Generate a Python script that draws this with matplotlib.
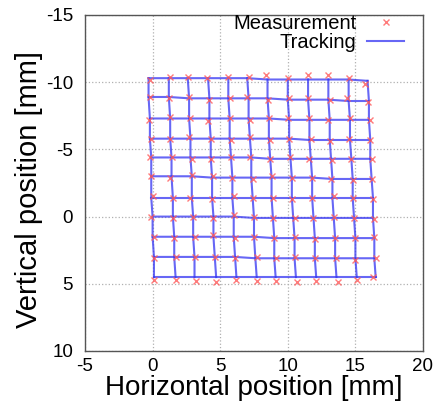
import numpy as np
import matplotlib
matplotlib.use('Agg')
import matplotlib.pyplot as plt

plt.rcParams['font.family'] = ['Liberation Sans', 'DejaVu Sans']
plt.rcParams['axes.unicode_minus'] = False

# tracked grid nodes [mm], 11 rows x 12 columns
track_x = [
    [-0.3, 1.2, 2.6, 4.1, 5.6, 7.0, 8.5, 10.0, 11.5, 13.0, 14.5, 15.9],
    [-0.3, 1.2, 2.7, 4.2, 5.6, 7.1, 8.5, 10.0, 11.5, 13.0, 14.5, 16.0],
    [-0.2, 1.3, 2.7, 4.2, 5.7, 7.1, 8.6, 10.1, 11.6, 13.1, 14.6, 16.0],
    [-0.2, 1.3, 2.8, 4.3, 5.7, 7.2, 8.6, 10.1, 11.6, 13.1, 14.6, 16.1],
    [-0.1, 1.4, 2.8, 4.3, 5.8, 7.3, 8.7, 10.2, 11.7, 13.2, 14.7, 16.1],
    [-0.1, 1.4, 2.9, 4.4, 5.9, 7.3, 8.8, 10.3, 11.8, 13.3, 14.8, 16.2],
    [-0.1, 1.5, 2.9, 4.4, 5.9, 7.4, 8.8, 10.3, 11.8, 13.3, 14.8, 16.3],
    [0.0, 1.5, 3.0, 4.5, 6.0, 7.5, 8.9, 10.4, 11.9, 13.4, 14.9, 16.3],
    [0.0, 1.6, 3.0, 4.5, 6.0, 7.5, 9.0, 10.5, 12.0, 13.5, 15.0, 16.4],
    [0.1, 1.6, 3.1, 4.6, 6.1, 7.6, 9.0, 10.5, 12.0, 13.5, 15.0, 16.4],
    [0.1, 1.7, 3.1, 4.7, 6.2, 7.7, 9.1, 10.6, 12.1, 13.6, 15.1, 16.5],
]
track_y = [
    [-10.3, -10.3, -10.3, -10.3, -10.3, -10.3, -10.2, -10.2, -10.2, -10.2, -10.2, -10.1],
    [-8.9, -8.9, -8.8, -8.8, -8.8, -8.8, -8.8, -8.7, -8.7, -8.7, -8.6, -8.6],
    [-7.3, -7.3, -7.3, -7.3, -7.3, -7.3, -7.3, -7.2, -7.2, -7.2, -7.2, -7.2],
    [-5.8, -5.8, -5.8, -5.8, -5.8, -5.8, -5.8, -5.8, -5.7, -5.7, -5.7, -5.7],
    [-4.4, -4.4, -4.4, -4.4, -4.4, -4.4, -4.3, -4.3, -4.3, -4.3, -4.3, -4.3],
    [-3.0, -3.0, -3.0, -2.9, -2.9, -2.9, -2.9, -2.9, -2.9, -2.8, -2.8, -2.8],
    [-1.4, -1.4, -1.4, -1.4, -1.4, -1.4, -1.4, -1.4, -1.4, -1.4, -1.4, -1.4],
    [0.0, 0.0, 0.0, 0.0, 0.0, 0.1, 0.1, 0.1, 0.1, 0.1, 0.1, 0.1],
    [1.5, 1.5, 1.5, 1.5, 1.5, 1.5, 1.6, 1.6, 1.6, 1.6, 1.6, 1.6],
    [3.0, 3.0, 3.0, 3.0, 3.0, 3.1, 3.1, 3.1, 3.1, 3.1, 3.1, 3.1],
    [4.5, 4.5, 4.5, 4.5, 4.5, 4.5, 4.5, 4.5, 4.5, 4.5, 4.5, 4.5],
]

# measured marker positions [mm]
meas_x = [
    [-0.2, 1.3, 2.6, 4.0, 5.6, 7.1, 8.4, 10.0, 11.5, 13.0, 14.5, 15.7],
    [-0.2, 1.2, 2.7, 4.2, 5.7, 7.0, 8.5, 10.1, 11.5, 13.1, 14.4, 15.9],
    [-0.3, 1.3, 2.8, 4.1, 5.7, 7.2, 8.6, 10.0, 11.6, 13.0, 14.6, 16.1],
    [-0.1, 1.3, 2.7, 4.3, 5.8, 7.2, 8.7, 10.1, 11.7, 13.1, 14.5, 16.1],
    [-0.2, 1.4, 2.9, 4.3, 5.8, 7.2, 8.7, 10.2, 11.6, 13.3, 14.7, 16.2],
    [-0.1, 1.3, 2.9, 4.5, 5.9, 7.4, 8.8, 10.3, 11.8, 13.2, 14.8, 16.2],
    [0.0, 1.5, 2.8, 4.4, 6.0, 7.4, 8.9, 10.3, 11.8, 13.4, 14.8, 16.3],
    [-0.1, 1.5, 3.0, 4.5, 6.0, 7.5, 8.9, 10.5, 11.9, 13.4, 14.9, 16.4],
    [0.1, 1.6, 3.1, 4.5, 6.1, 7.5, 9.0, 10.5, 12.0, 13.5, 15.0, 16.4],
    [0.1, 1.7, 3.1, 4.6, 6.1, 7.7, 9.1, 10.5, 12.0, 13.6, 15.0, 16.5],
    [0.1, 1.7, 3.2, 4.7, 6.2, 7.7, 9.1, 10.7, 12.1, 13.7, 15.1, 16.3],
]
meas_y = [
    [-10.2, -10.4, -10.4, -10.3, -10.4, -10.4, -10.5, -10.3, -10.5, -10.5, -10.3, -9.9],
    [-8.9, -8.8, -8.9, -8.7, -8.8, -8.9, -8.7, -8.8, -8.8, -8.7, -8.8, -8.5],
    [-7.2, -7.4, -7.3, -7.1, -7.3, -7.2, -7.3, -7.3, -7.3, -7.2, -7.3, -7.2],
    [-5.8, -5.8, -5.9, -5.8, -5.7, -5.9, -5.7, -5.8, -5.8, -5.6, -5.8, -5.7],
    [-4.4, -4.4, -4.3, -4.3, -4.4, -4.4, -4.3, -4.4, -4.3, -4.2, -4.3, -4.3],
    [-3.0, -2.9, -3.1, -3.0, -2.9, -2.8, -3.0, -2.9, -2.9, -2.8, -2.7, -2.8],
    [-1.5, -1.4, -1.4, -1.3, -1.5, -1.4, -1.4, -1.3, -1.4, -1.5, -1.4, -1.3],
    [0.0, 0.1, 0.0, 0.1, -0.1, 0.0, 0.1, 0.1, 0.1, 0.0, 0.1, 0.2],
    [1.5, 1.6, 1.5, 1.4, 1.6, 1.5, 1.6, 1.5, 1.7, 1.6, 1.6, 1.5],
    [3.1, 3.0, 3.0, 3.0, 3.1, 3.0, 3.1, 3.0, 3.1, 3.1, 3.2, 3.1],
    [4.7, 4.7, 4.8, 4.9, 4.7, 4.8, 4.8, 4.9, 4.8, 4.9, 4.7, 4.5],
]

x_ticks = [-5, 0, 5, 10, 15, 20]
y_ticks = [-15, -10, -5, 0, 5, 10]

tx = np.array(track_x)
ty = np.array(track_y)

fig = plt.figure(figsize=(4.35, 4.01), dpi=100)
ax = fig.add_axes([0.1954, 0.1247, 0.777, 0.8379])

mk = ax.plot(np.ravel(meas_x), np.ravel(meas_y), 'x', color='#ff5a5a',
             ms=5, mew=1.0, alpha=0.8, label='Measurement', zorder=3)
rows = ax.plot(tx.T, ty.T, '-', color='#3434f2', lw=1.5, alpha=0.75, zorder=2)
ax.plot(tx, ty, '-', color='#3434f2', lw=1.5, alpha=0.75, zorder=2)
rows[0].set_label('Tracking')

ax.set_xlim(-5, 20)
ax.set_ylim(10, -15)
ax.set_xticks(x_ticks)
ax.set_yticks(y_ticks)
ax.grid(True, color='#b0b0b0', linestyle=':', linewidth=0.9)
ax.tick_params(length=0, labelsize=13.5)
ax.tick_params(axis='x', pad=5)
ax.tick_params(axis='y', pad=8.5)
for s in ax.spines.values():
    s.set_color('#555555')
    s.set_linewidth(1.0)

ax.set_xlabel('Horizontal position [mm]', fontsize=20, labelpad=0)
ax.set_ylabel('Vertical position [mm]', fontsize=21)
ax.yaxis.set_label_coords(-0.125, 0.48)

ax.legend(handles=[mk[0], rows[0]], loc='upper right',
          bbox_to_anchor=(0.953, 0.99), bbox_transform=fig.transFigure,
          frameon=False, markerfirst=False, fontsize=14.5, borderpad=0,
          handlelength=1.85, handletextpad=0.55, labelspacing=0.0)

fig.savefig('out.png', dpi=100)
